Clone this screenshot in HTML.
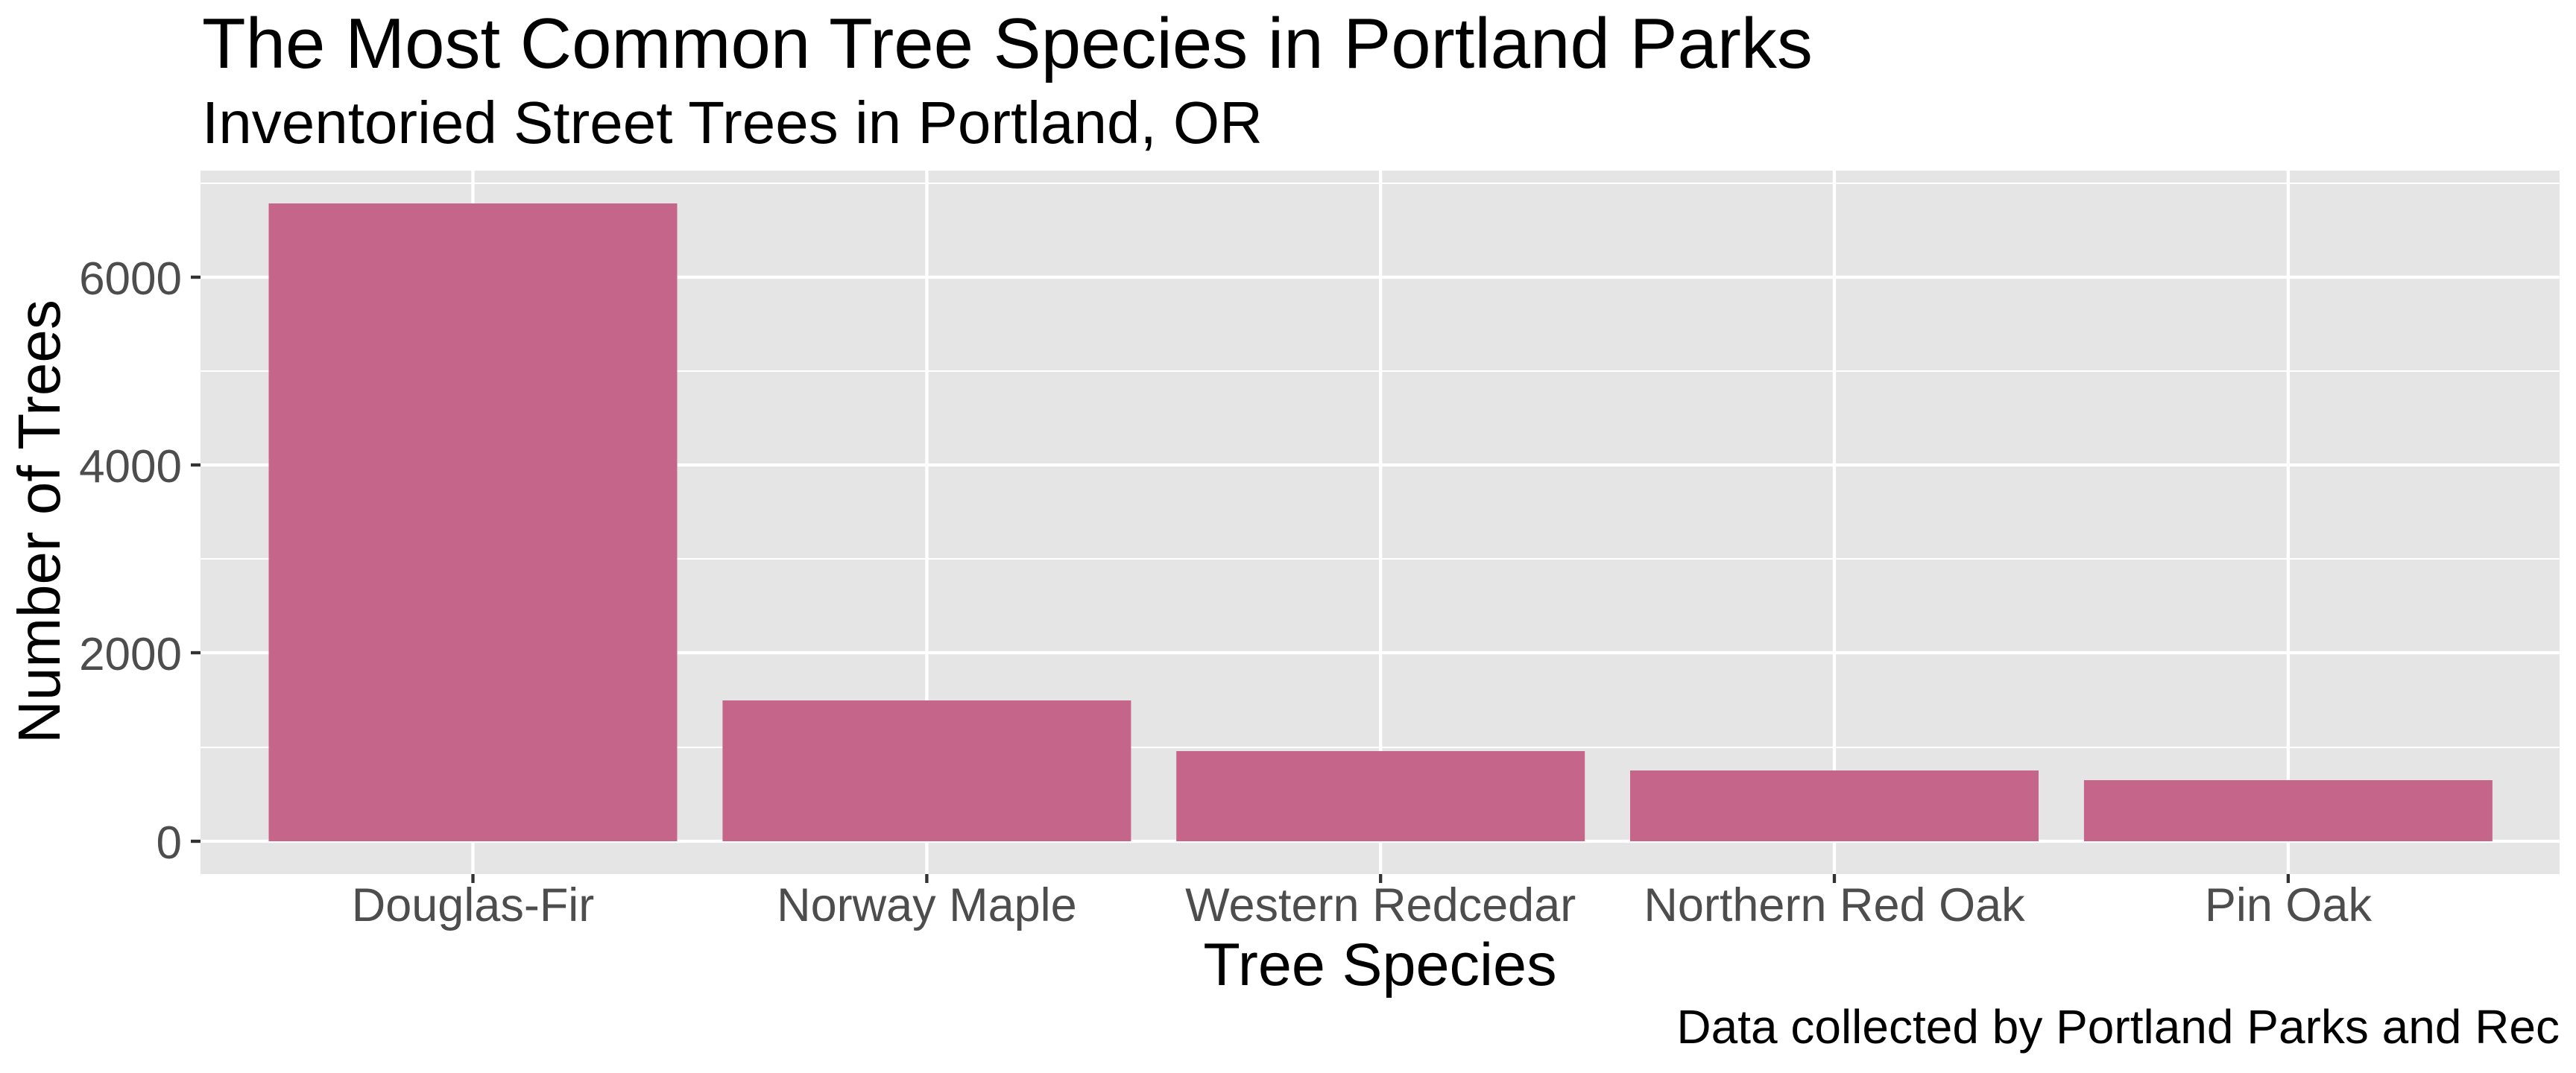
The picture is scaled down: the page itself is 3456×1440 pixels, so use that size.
<!DOCTYPE html>
<html><head><meta charset="utf-8"><style>
html,body{margin:0;padding:0;background:#fff;}
svg{display:block;font-family:"Liberation Sans",Arial,sans-serif;}
</style></head><body>
<svg width="3456" height="1440" viewBox="0 0 3456 1440" xmlns="http://www.w3.org/2000/svg">
<rect width="3456" height="1440" fill="#fff"/>
<text x="271" y="91" font-size="96" fill="#000">The Most Common Tree Species in Portland Parks</text>
<text x="271" y="192" font-size="80" fill="#000">Inventoried Street Trees in Portland, OR</text>
<rect x="269" y="229" width="3165" height="944" fill="#e5e5e5"/>
<g stroke="#fff" stroke-width="2">
<line x1="269" x2="3434" y1="246" y2="246"/>
<line x1="269" x2="3434" y1="498" y2="498"/>
<line x1="269" x2="3434" y1="750" y2="750"/>
<line x1="269" x2="3434" y1="1003" y2="1003"/>
</g>
<g stroke="#fff" stroke-width="4.3">
<line x1="269" x2="3434" y1="372" y2="372"/>
<line x1="269" x2="3434" y1="624" y2="624"/>
<line x1="269" x2="3434" y1="876" y2="876"/>
<line x1="269" x2="3434" y1="1129" y2="1129"/>
<line x1="634.5" x2="634.5" y1="229" y2="1173"/>
<line x1="1243.4" x2="1243.4" y1="229" y2="1173"/>
<line x1="1852.2" x2="1852.2" y1="229" y2="1173"/>
<line x1="2461" x2="2461" y1="229" y2="1173"/>
<line x1="3069.9" x2="3069.9" y1="229" y2="1173"/>
</g>
<g fill="#c6658a">
<rect x="360.5" y="273" width="548" height="856"/>
<rect x="969.4" y="940" width="548" height="189"/>
<rect x="1578.2" y="1008" width="548" height="121"/>
<rect x="2187" y="1034" width="548" height="95"/>
<rect x="2795.9" y="1047" width="548" height="82"/>
</g>
<g stroke="#333" stroke-width="4.3">
<line x1="256" x2="269" y1="372" y2="372"/>
<line x1="256" x2="269" y1="624" y2="624"/>
<line x1="256" x2="269" y1="876" y2="876"/>
<line x1="256" x2="269" y1="1129" y2="1129"/>
<line x1="634.5" x2="634.5" y1="1173" y2="1185"/>
<line x1="1243.4" x2="1243.4" y1="1173" y2="1185"/>
<line x1="1852.2" x2="1852.2" y1="1173" y2="1185"/>
<line x1="2461" x2="2461" y1="1173" y2="1185"/>
<line x1="3069.9" x2="3069.9" y1="1173" y2="1185"/>
</g>
<g font-size="62" fill="#4d4d4d" text-anchor="end">
<text x="244" y="395">6000</text>
<text x="244" y="647">4000</text>
<text x="244" y="899">2000</text>
<text x="244" y="1152">0</text>
</g>
<g font-size="63" fill="#4d4d4d" text-anchor="middle">
<text x="634.5" y="1236">Douglas-Fir</text>
<text x="1243.4" y="1236">Norway Maple</text>
<text x="1852.2" y="1236">Western Redcedar</text>
<text x="2461" y="1236">Northern Red Oak</text>
<text x="3069.9" y="1236">Pin Oak</text>
</g>
<text x="1851.5" y="1322" font-size="81" fill="#000" text-anchor="middle">Tree Species</text>
<text transform="translate(80,700) rotate(-90)" font-size="80" fill="#000" text-anchor="middle">Number of Trees</text>
<text x="3434" y="1400" font-size="64" fill="#000" text-anchor="end">Data collected by Portland Parks and Rec</text>
</svg>
</body></html>
